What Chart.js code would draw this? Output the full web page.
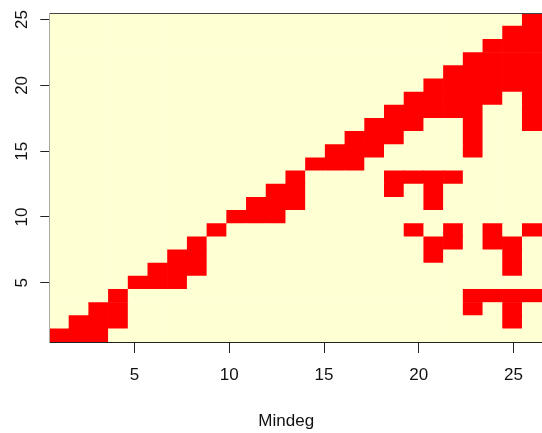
<!DOCTYPE html>
<html>
<head>
<meta charset="utf-8">
<script src="https://cdn.jsdelivr.net/npm/chart.js@4"></script>
<style>
html,body{margin:0;padding:0;background:#fff;}
canvas{display:block;}
</style>
</head>
<body>
<canvas id="hm" width="542" height="433"></canvas>
<script>
// matrix 25x25, listed as the red (value 1) columns of each row
const cols=[1,2,3,4,5,6,7,8,9,10,11,12,13,14,15,16,17,18,19,20,21,22,23,24,25];
const rows=[1,2,3,4,5,6,7,8,9,10,11,12,13,14,15,16,17,18,19,20,21,22,23,24,25];
const redCols=[
  [1,2,3],
  [2,3,4,24],
  [3,4,22,24],
  [4,22,23,24,25],
  [5,6,7],
  [6,7,8,24],
  [7,8,20,24],
  [8,20,21,23,24],
  [9,19,21,23,25],
  [10,11,12],
  [11,12,13,20],
  [12,13,18,20],
  [13,18,19,20,21],
  [14,15,16],
  [15,16,17,22],
  [16,17,18,22],
  [17,18,19,22,25],
  [18,19,20,21,22,25],
  [19,20,21,22,23,25],
  [20,21,22,23,24,25],
  [21,22,23,24,25],
  [22,23,24,25],
  [23,24,25],
  [24,25],
  [25]
];
const xTicks=[5,10,15,20,25];
const yTicks=[5,10,15,20,25];
const xLabel='Mindeg';

const loColor='#FFFFD4';
const hiColor='#FF0000';
const txt='#111';
const fnt={family:'Liberation Sans, Arial, sans-serif',size:17,weight:'normal'};

let datasets=[];
for(let i=0;i<rows.length;i++){
  const r=rows[i];
  datasets.push({
    data:cols.map(()=>[r-0.5,r+0.5]),
    backgroundColor:cols.map(c=>redCols[i].includes(c)?hiColor:loColor),
    xAxisID:'xc',
    yAxisID:'y',
    grouped:false,
    barPercentage:1,
    categoryPercentage:1,
    borderWidth:0
  });
}

new Chart('hm',{
  type:'bar',
  data:{labels:cols,datasets:datasets},
  options:{
    responsive:false,
    animation:false,
    layout:{padding:{left:0,top:13,right:0,bottom:0}},
    plugins:{
      legend:{display:false},
      tooltip:{enabled:false}
    },
    scales:{
      xc:{
        type:'category',
        position:'top',
        offset:true,
        ticks:{display:false},
        grid:{display:false,drawTicks:false},
        border:{display:true,color:'#444',width:1,z:1},
        afterFit:s=>{s.height=0;}
      },
      x:{
        type:'linear',
        position:'bottom',
        min:0.5,
        max:26.5,
        offset:false,
        afterBuildTicks:s=>{s.ticks=xTicks.map(v=>({value:v}));},
        afterFit:s=>{s.height=91;s.paddingLeft=0;s.paddingRight=0;},
        ticks:{color:txt,font:fnt,padding:12,maxRotation:0,autoSkip:false},
        grid:{drawOnChartArea:false,offset:false,tickLength:11,color:'#222'},
        border:{color:'#222',z:1},
        title:{display:true,text:xLabel+'    ',color:txt,font:fnt,padding:{top:0,bottom:1.5}}
      },
      y:{
        type:'linear',
        position:'left',
        min:0.5,
        max:25.5,
        afterBuildTicks:s=>{s.ticks=yTicks.map(v=>({value:v}));},
        afterFit:s=>{s.width=49.3;s.paddingTop=0;s.paddingBottom=0;},
        ticks:{color:txt,font:fnt,padding:9,minRotation:90,maxRotation:90,crossAlign:'center',autoSkip:false},
        grid:{drawOnChartArea:false,tickLength:9,color:'#222'},
        border:{color:'#aaa',z:1}
      }
    }
  }
});
</script>
</body>
</html>
